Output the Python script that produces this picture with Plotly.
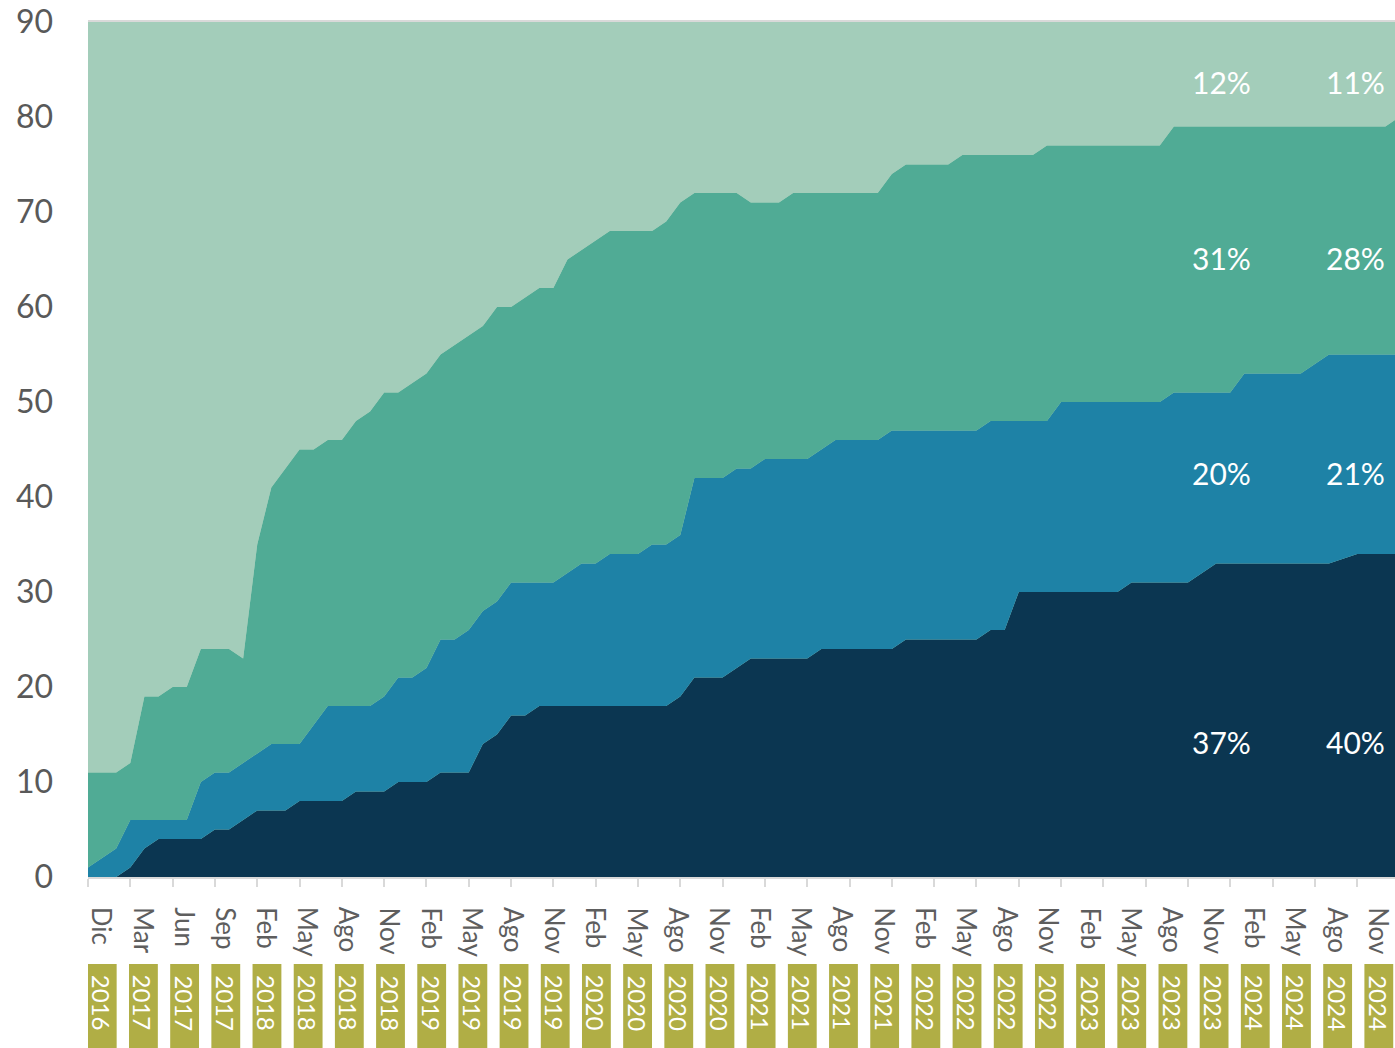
import plotly.graph_objects as go

# ---- Data (cumulative levels) ----
nivel_oscuro = [0, 0, 0, 1, 3, 4, 4, 4, 4, 5, 5, 6, 7, 7, 7, 8, 8, 8, 8, 9,
                9, 9, 10, 10, 10, 11, 11, 11, 14, 15, 17, 17, 18, 18, 18, 18, 18, 18, 18, 18,
                18, 18, 19, 21, 21, 21, 22, 23, 23, 23, 23, 23, 24, 24, 24, 24, 24, 24, 25, 25,
                25, 25, 25, 25, 26, 26, 30, 30, 30, 30, 30, 30, 30, 30, 31, 31, 31, 31, 31, 32,
                33, 33, 33, 33, 33, 33, 33, 33, 33, 33.5, 34, 34, 34, 34]
nivel_azul = [1, 2, 3, 6, 6, 6, 6, 6, 10, 11, 11, 12, 13, 14, 14, 14, 16, 18, 18, 18,
              18, 19, 21, 21, 22, 25, 25, 26, 28, 29, 31, 31, 31, 31, 32, 33, 33, 34, 34, 34,
              35, 35, 36, 42, 42, 42, 43, 43, 44, 44, 44, 44, 45, 46, 46, 46, 46, 47, 47, 47,
              47, 47, 47, 47, 48, 48, 48, 48, 48, 50, 50, 50, 50, 50, 50, 50, 50, 51, 51, 51,
              51, 51, 53, 53, 53, 53, 53, 54, 55, 55, 55, 55, 55, 55]
nivel_verde = [11, 11, 11, 12, 19, 19, 20, 20, 24, 24, 24, 23, 35, 41, 43, 45, 45, 46, 46, 48,
               49, 51, 51, 52, 53, 55, 56, 57, 58, 60, 60, 61, 62, 62, 65, 66, 67, 68, 68, 68,
               68, 69, 71, 72, 72, 72, 72, 71, 71, 71, 72, 72, 72, 72, 72, 72, 72, 74, 75, 75,
               75, 75, 76, 76, 76, 76, 76, 76, 77, 77, 77, 77, 77, 77, 77, 77, 77, 79, 79, 79,
               79, 79, 79, 79, 79, 79, 79, 79, 79, 79, 79, 79, 79, 80]
techo = 90

meses = ["Dic", "Mar", "Jun", "Sep"] + ["Feb", "May", "Ago", "Nov"] * 7
anios = ["2016", "2017", "2017", "2017",
         "2018", "2018", "2018", "2018", "2019", "2019", "2019", "2019",
         "2020", "2020", "2020", "2020", "2021", "2021", "2021", "2021",
         "2022", "2022", "2022", "2022", "2023", "2023", "2023", "2023",
         "2024", "2024", "2024", "2024"]

pct_col1 = ["12%", "31%", "20%", "37%"]
pct_col2 = ["11%", "28%", "21%", "40%"]
pct_y = [83.7, 65.2, 42.5, 14.2]

y_ticks = list(range(0, 91, 10))

# ---- Style ----
C_LIGHT = "#A3CDBA"
C_TEAL = "#50AB95"
C_BLUE = "#1E82A6"
C_DARK = "#0B3651"
C_OLIVE = "#B0AE45"
FONT = "Lato"

idx = list(range(len(nivel_oscuro)))

fig = go.Figure()
fig.add_trace(go.Scatter(x=idx, y=nivel_oscuro, mode="lines", line=dict(width=0),
                         fill="tozeroy", fillcolor=C_DARK, hoverinfo="skip"))
fig.add_trace(go.Scatter(x=idx, y=nivel_azul, mode="lines", line=dict(width=0),
                         fill="tonexty", fillcolor=C_BLUE, hoverinfo="skip"))
fig.add_trace(go.Scatter(x=idx, y=nivel_verde, mode="lines", line=dict(width=0),
                         fill="tonexty", fillcolor=C_TEAL, hoverinfo="skip"))
fig.add_trace(go.Scatter(x=idx, y=[techo] * len(idx), mode="lines", line=dict(width=0),
                         fill="tonexty", fillcolor=C_LIGHT, hoverinfo="skip"))

annotations = []
shapes = []
for k, (m, a) in enumerate(zip(meses, anios)):
    annotations.append(dict(x=k, xref="x2", y=-0.0327, yref="paper", text=m,
                            showarrow=False, textangle=90, xanchor="center", yanchor="top",
                            font=dict(family=FONT, size=26, color="#5E5E5E")))
    shapes.append(dict(type="rect", xref="x2", yref="paper", x0=k - 0.35, x1=k + 0.35,
                       y0=-0.1018, y1=-0.21, fillcolor=C_OLIVE, line=dict(width=0), layer="above"))
    annotations.append(dict(x=k, xref="x2", y=-0.1123, yref="paper", text=a,
                            showarrow=False, textangle=90, xanchor="center", yanchor="top",
                            font=dict(family=FONT, size=24, color="white")))

for t1, t2, yy in zip(pct_col1, pct_col2, pct_y):
    annotations.append(dict(x=82.6, xref="x", y=yy, yref="y", text=t1, showarrow=False,
                            xanchor="right", yanchor="middle",
                            font=dict(family=FONT, size=30, color="white")))
    annotations.append(dict(x=92.1, xref="x", y=yy, yref="y", text=t2, showarrow=False,
                            xanchor="right", yanchor="middle",
                            font=dict(family=FONT, size=30, color="white")))

fig.update_layout(
    width=1395, height=1048,
    margin=dict(l=88, r=0, t=22, b=171),
    paper_bgcolor="white", plot_bgcolor=C_LIGHT,
    showlegend=False,
    font=dict(family=FONT),
    xaxis=dict(range=[0, 92.68], tickvals=list(range(0, 94, 3)),
               ticktext=[""] * len(range(0, 94, 3)),
               ticks="outside", ticklen=8, tickcolor="#D9D9D9", tickwidth=1.5,
               showline=True, linecolor="#D9D9D9", linewidth=1.5, mirror=True,
               showgrid=False, zeroline=False),
    xaxis2=dict(range=[-0.346, 31.393], overlaying="x", anchor="y", visible=False),
    yaxis=dict(range=[0, 90], tickvals=y_ticks, ticks="", showgrid=False,
               zeroline=False, showline=False, ticklabelstandoff=34,
               tickfont=dict(family=FONT, size=32, color="#595959")),
    annotations=annotations,
    shapes=shapes,
)

fig.write_html(
    "out.html",
    config={"displayModeBar": False},
    post_script="document.body.style.margin='0';document.body.style.overflow='hidden';",
)
